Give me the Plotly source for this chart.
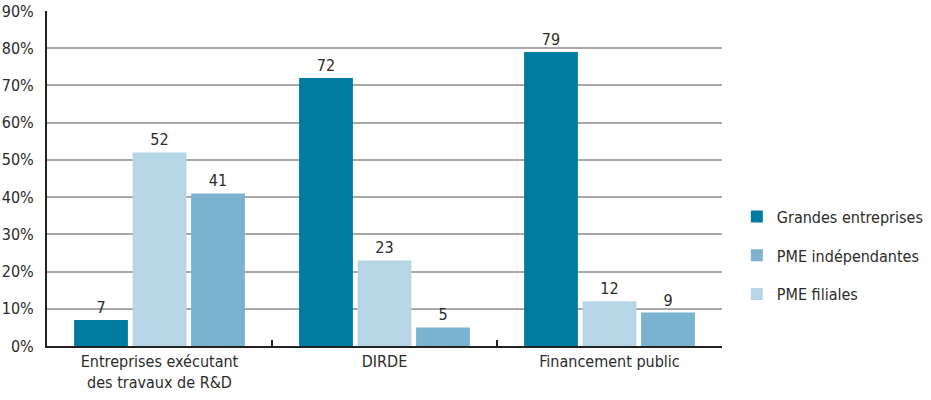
import plotly.graph_objects as go

categories = ["Entreprises exécutant<br>des travaux de R&D", "DIRDE", "Financement public"]
grandes = [7, 72, 79]
pme_filiales = [52, 23, 12]
pme_indep = [41, 5, 9]
y_ticks = [0, 10, 20, 30, 40, 50, 60, 70, 80, 90]
y_tick_labels = [f"{v}%" for v in y_ticks]

FONT = "Liberation Sans Narrow, DejaVu Sans Condensed, Arial Narrow, sans-serif"
TXT = "#2b2b2b"
FS = 16

fig = go.Figure()
series = [
    ("Grandes entreprises", grandes, "#007ca3", 1),
    ("PME filiales", pme_filiales, "#b6d6e7", 3),
    ("PME indépendantes", pme_indep, "#7ab3d0", 2),
]
for name, vals, col, rank in series:
    fig.add_trace(go.Bar(
        x=categories, y=vals, name=name, marker_color=col, marker_line_width=0,
        text=[str(v) for v in vals], textposition="outside", cliponaxis=False,
        textfont=dict(family=FONT, size=FS, color=TXT),
        legendrank=rank, legendgroup=name,
    ))

fig.update_layout(
    width=931, height=400,
    margin=dict(l=47, r=209, t=11, b=54, autoexpand=False),
    plot_bgcolor="white", paper_bgcolor="white",
    barmode="group", bargap=0.22, bargroupgap=0.08,
    font=dict(family=FONT, size=FS, color=TXT),
    showlegend=True,
    legend=dict(x=1.022, y=0.27, xanchor="left", yanchor="middle",
                font=dict(family=FONT, size=FS, color=TXT),
                tracegroupgap=15, itemwidth=30),
    xaxis=dict(showline=True, linecolor="#222", linewidth=2, automargin=False,
               ticks="inside", tickson="boundaries", ticklen=6, tickcolor="#222", tickwidth=2,
               tickfont=dict(family=FONT, size=FS, color=TXT)),
    yaxis=dict(range=[0, 90], tickvals=y_ticks, ticktext=y_tick_labels, automargin=False,
               showline=True, linecolor="#222", linewidth=2,
               showgrid=True, gridcolor="#a8a8a8", gridwidth=1.5,
               zeroline=False, ticks="", ticklabelstandoff=8,
               tickfont=dict(family=FONT, size=FS, color=TXT)),
)
fig.write_html("out.html", config={"displayModeBar": False},
               post_script="document.body.style.margin='0';")
